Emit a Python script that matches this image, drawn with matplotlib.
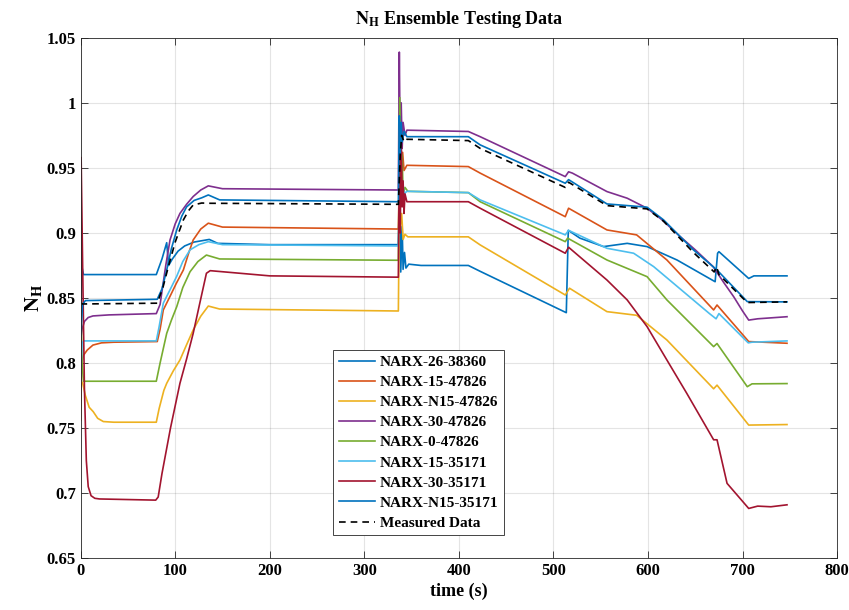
import numpy as np
import matplotlib
matplotlib.use('Agg')
import matplotlib.pyplot as plt

# ==============================================================================
# Series data (time in s, normalised N_H)
# ==============================================================================
t_26_38360 = [0, 1, 3, 80, 86, 91, 93, 97, 103, 110, 120, 136, 145, 200, 336, 337.5, 338.5, 340,
              341, 342.5, 344, 347, 360, 410, 422.5, 513.6, 515.7, 528, 553, 578, 599, 630.7,
              671, 673.6, 675, 706.5, 712, 747]
v_26_38360 = [0.79, 0.875, 0.868, 0.868, 0.880, 0.8925, 0.875, 0.880, 0.886, 0.890, 0.893, 0.895,
              0.892, 0.891, 0.891, 0.94, 0.87, 0.905, 0.872, 0.885, 0.873, 0.876, 0.875, 0.875,
              0.8705, 0.8387, 0.902, 0.896, 0.8895, 0.892, 0.8895, 0.8792, 0.8625, 0.8844,
              0.8856, 0.865, 0.867, 0.867]

t_15_47826 = [0, 1, 3, 7, 13, 22, 35, 81, 84, 87.4, 95, 101, 108.6, 114, 119, 127, 135, 150, 336,
              337.5, 339, 340.5, 342, 345, 410, 422.5, 512.5, 516, 556.6, 588, 620, 669.4, 673,
              706.5, 747]
v_15_47826 = [0.756, 0.80, 0.806, 0.810, 0.8138, 0.8155, 0.816, 0.8165, 0.826, 0.8408, 0.852,
              0.861, 0.8715, 0.884, 0.8946, 0.903, 0.9075, 0.9045, 0.903, 0.96, 0.945, 0.962,
              0.948, 0.952, 0.951, 0.946, 0.9125, 0.919, 0.9023, 0.8985, 0.8792, 0.8408,
              0.8446, 0.8165, 0.8152]

t_n15_47826 = [0, 2, 5, 9, 13.3, 18, 24, 35, 80, 83, 88, 91, 98, 105, 112, 119, 127, 135, 147,
               336, 337, 338, 339.5, 341, 343, 346, 410, 422.5, 512.5, 517, 556.6, 588, 620,
               669.4, 673, 706.5, 747]
v_n15_47826 = [0.786, 0.785, 0.775, 0.766, 0.7626, 0.7575, 0.755, 0.7545, 0.7545, 0.765, 0.779,
               0.7844, 0.794, 0.8023, 0.814, 0.8254, 0.836, 0.8438, 0.8415, 0.840, 0.92, 0.905,
               0.915, 0.895, 0.899, 0.897, 0.897, 0.8908, 0.8523, 0.8575, 0.8395, 0.8367,
               0.8177, 0.7802, 0.783, 0.7523, 0.7527]

t_30_47826 = [0, 1.5, 4, 8, 13, 30, 80, 84, 90, 94.5, 100, 105, 112, 119, 127, 135, 150, 336,
              337, 338, 339, 340, 341, 343, 345, 410, 422.5, 512.5, 516, 520, 556.6, 578, 599,
              615, 634, 650, 669, 680, 690.6, 700, 706.5, 716, 747]
v_30_47826 = [0.818, 0.826, 0.832, 0.835, 0.8362, 0.837, 0.838, 0.845, 0.875, 0.8946, 0.907,
              0.915, 0.922, 0.928, 0.933, 0.9362, 0.934, 0.933, 1.039, 0.96, 1.0, 0.965, 0.985,
              0.975, 0.979, 0.978, 0.974, 0.9433, 0.947, 0.946, 0.9318, 0.9267, 0.919, 0.910,
              0.8972, 0.887, 0.874, 0.862, 0.851, 0.840, 0.833, 0.834, 0.8356]

t_0_47826 = [0, 1.5, 3, 80, 84, 91, 96, 101.6, 108, 115.7, 124, 133, 147, 336, 337.5, 339, 340,
             341, 343, 346, 410, 422.5, 512.5, 515, 556.6, 599, 620, 669.4, 673, 705, 710, 747]
v_0_47826 = [0.852, 0.80, 0.786, 0.786, 0.80, 0.8228, 0.833, 0.8433, 0.858, 0.8702, 0.878, 0.883,
             0.880, 0.879, 1.004, 0.93, 0.96, 0.93, 0.935, 0.932, 0.931, 0.924, 0.8933, 0.896,
             0.8792, 0.8664, 0.8485, 0.8126, 0.815, 0.7818, 0.784, 0.7842]

t_15_35171 = [0, 1.5, 3, 80, 83, 87.4, 95, 101.6, 108, 115.7, 125, 135, 150, 336, 338, 339,
              340.5, 342, 345, 410, 422.5, 512.5, 516, 556.6, 584.8, 606, 665, 672, 675, 706,
              710, 747]
v_15_35171 = [0.79, 0.815, 0.817, 0.817, 0.828, 0.846, 0.857, 0.8667, 0.878, 0.887, 0.891,
              0.8933, 0.891, 0.890, 0.945, 0.925, 0.94, 0.93, 0.932, 0.931, 0.9254, 0.8985,
              0.902, 0.8882, 0.8844, 0.8741, 0.838, 0.834, 0.838, 0.8155, 0.816, 0.817]

t_30_35171 = [0, 0.5, 2, 4, 6, 8, 11, 15, 20, 79.4, 82, 86, 95, 105, 112, 119, 126, 133, 137,
              200, 336, 337, 338, 339, 340, 341, 342, 343, 345, 410, 422.5, 512.5, 516, 556.6,
              578, 599, 620, 641, 669.4, 673, 683.6, 706.5, 716, 730, 747]
v_30_35171 = [0.78, 0.958, 0.88, 0.78, 0.725, 0.705, 0.698, 0.696, 0.6955, 0.6946, 0.697, 0.715,
              0.75, 0.7844, 0.803, 0.8228, 0.846, 0.869, 0.871, 0.867, 0.866, 0.96, 0.90, 0.979,
              0.92, 0.94, 0.915, 0.93, 0.924, 0.924, 0.919, 0.8844, 0.889, 0.8638, 0.8485,
              0.828, 0.8023, 0.7767, 0.741, 0.741, 0.7075, 0.6882, 0.690, 0.6895, 0.691]

t_n15_35171 = [0, 2, 5, 81, 86, 91, 96, 101.6, 107, 112, 120, 128, 135, 147, 336, 337, 338, 339,
               340, 342, 345, 410, 422.5, 512.5, 516, 556.6, 599, 616.5, 648, 673, 705, 747]
v_n15_35171 = [0.82, 0.845, 0.848, 0.849, 0.857, 0.8715, 0.888, 0.9023, 0.913, 0.920, 0.925,
               0.927, 0.9292, 0.9254, 0.924, 0.99, 0.96, 0.985, 0.97, 0.978, 0.974, 0.974,
               0.9677, 0.9382, 0.941, 0.9223, 0.9198, 0.910, 0.887, 0.8715, 0.8472, 0.847]

t_measured = [0, 2, 81, 87, 92.7, 100, 108.6, 114, 119, 128, 137, 336, 338, 339.5, 342, 345,
              410, 422.5, 512.5, 516, 556.6, 599, 616.5, 648, 670, 672.5, 675, 705, 747]
v_measured = [0.846, 0.8454, 0.846, 0.858, 0.874, 0.893, 0.910, 0.917, 0.9215, 0.923, 0.9228,
              0.922, 0.96, 0.975, 0.97, 0.972, 0.971, 0.965, 0.935, 0.939, 0.921, 0.9185, 0.909,
              0.885, 0.870, 0.874, 0.868, 0.8465, 0.847]

labels = ['NARX-26-38360', 'NARX-15-47826', 'NARX-N15-47826', 'NARX-30-47826',
          'NARX-0-47826', 'NARX-15-35171', 'NARX-30-35171', 'NARX-N15-35171']
colors = ['#0072BD', '#D95319', '#EDB120', '#7E2F8E', '#77AC30', '#4DBEEE', '#A2142F', '#0072BD']
series = [(t_26_38360, v_26_38360), (t_15_47826, v_15_47826), (t_n15_47826, v_n15_47826),
          (t_30_47826, v_30_47826), (t_0_47826, v_0_47826), (t_15_35171, v_15_35171),
          (t_30_35171, v_30_35171), (t_n15_35171, v_n15_35171)]

# ==============================================================================
# Plot
# ==============================================================================
plt.rcParams['font.family'] = ['Liberation Serif', 'DejaVu Serif']
plt.rcParams['font.weight'] = 'bold'
plt.rcParams['mathtext.fontset'] = 'stix'

fig = plt.figure(figsize=(8.49, 6.10), dpi=100)
ax = fig.add_axes([0.095, 0.085, 0.891, 0.853])

for (t, v), lab, col in zip(series, labels, colors):
    ax.plot(t, v, color=col, lw=1.2, label=lab)
ax.plot(t_measured, v_measured, color='black', lw=1.2, ls=(0, (4, 3)), label='Measured Data')

ax.set_xlim(0, 800)
ax.set_ylim(0.65, 1.05)
ax.set_xticks(np.arange(0, 801, 100))
ax.set_yticks(np.arange(0.65, 1.051, 0.05))
ax.set_yticklabels(['0.65', '0.7', '0.75', '0.8', '0.85', '0.9', '0.95', '1', '1.05'])
ax.tick_params(direction='in', top=True, right=True, labelsize=12, colors='#262626',
               length=5, width=0.6)
for lbl in ax.get_xticklabels() + ax.get_yticklabels():
    lbl.set_color('black')
    lbl.set_fontweight('bold')
for sp in ax.spines.values():
    sp.set_color('#262626')
    sp.set_linewidth(0.6)
ax.grid(True, color='#262626', alpha=0.12, lw=0.8)

ax.set_title(r'$\mathbf{N_H}$ Ensemble Testing Data', fontsize=13, fontweight='bold', pad=10)
ax.set_xlabel('time (s)', fontsize=13, fontweight='bold', labelpad=3)
ax.set_ylabel(r'$\mathbf{N_H}$', fontsize=15, labelpad=2)

leg = ax.legend(loc='lower left', bbox_to_anchor=(0.334, 0.044), borderaxespad=0, fontsize=11,
                handlelength=2.4, handletextpad=0.3, labelspacing=0.42, borderpad=0.35,
                fancybox=False, edgecolor='#262626', framealpha=1)
leg.get_frame().set_linewidth(0.6)
for txt in leg.get_texts():
    txt.set_fontweight('bold')

fig.savefig('out.png', dpi=100)
